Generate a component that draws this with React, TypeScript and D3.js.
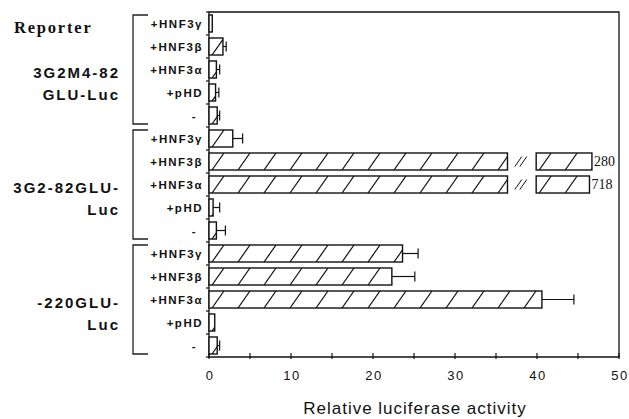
import React from 'react';
import * as d3 from 'd3';

// reporter constructs, two text lines each
const reporterLines = [
  ['3G2M4-82', 'GLU-Luc'],
  ['3G2-82GLU-', 'Luc'],
  ['-220GLU-', 'Luc'],
];
const treatments = ['+HNF3γ', '+HNF3β', '+HNF3α', '+pHD', '-'];
// relative luciferase activity per reporter x treatment
const activity = [
  [0.4, 1.7, 0.9, 0.8, 1.0],
  [2.9, 280, 718, 0.5, 0.9],
  [23.6, 22.3, 40.6, 0.7, 1.0],
];
const errors = [
  [0, 0.4, 0.4, 0.4, 0.3],
  [1.2, 0, 0, 0.8, 1.1],
  [1.9, 2.8, 3.9, 0, 0.3],
];
const xTickLabels = [0, 10, 20, 30, 40, 50];
const xMinorTicks = [0, 5, 10, 15, 20, 25, 30, 35, 40, 45, 50];
// off-scale bars are cut at breakAt, resume at resumeAt and end at their tail value
const breakAt = 36.4;
const resumeAt = 39.9;
const brokenTails: Record<number, number> = { 280: 46.7, 718: 46.4 };

const W = 629;
const H = 419;
const sans = '"Liberation Sans", Arial, sans-serif';
const serif = '"Liberation Serif", "Times New Roman", serif';

const App: React.FC = () => {
  const x = d3.scaleLinear().domain([0, 50]).range([209, 619]);
  const rows = reporterLines.flatMap((_, g) =>
    treatments.map((t, i) => ({ g, i, label: t, value: activity[g][i], err: errors[g][i] }))
  );
  const y = d3
    .scaleBand<number>()
    .domain(d3.range(rows.length))
    .range([12, 357])
    .paddingInner(0.26)
    .paddingOuter(0.13);
  const bw = y.bandwidth();
  const [plotTop, plotBottom] = y.range();

  // one hatched rectangle, clipped so the slashes stay inside
  const hatchBar = (key: string, x0: number, x1: number, top: number) => {
    const lines = [];
    for (let bx = x0 + 3; bx < x1 + 2; bx += 26) {
      lines.push(
        <line key={bx} x1={bx} y1={top + bw} x2={bx + 12} y2={top} stroke="#111" strokeWidth={1.2} />
      );
    }
    return (
      <g key={key}>
        <clipPath id={`clip-${key}`}>
          <rect x={x0} y={top} width={x1 - x0} height={bw} />
        </clipPath>
        <rect x={x0} y={top} width={x1 - x0} height={bw} fill="#fff" />
        <g clipPath={`url(#clip-${key})`}>{lines}</g>
        <rect x={x0} y={top} width={x1 - x0} height={bw} fill="none" stroke="#111" strokeWidth={1.4} />
      </g>
    );
  };

  return (
    <svg
      width={W}
      height={H}
      viewBox={`0 0 ${W} ${H}`}
      style={{ position: 'absolute', left: 0, top: 0, background: '#fff' }}
    >
      {/* Title on the left */}
      <text x={14} y={33} fontFamily={serif} fontWeight="bold" fontSize={16.5} letterSpacing={1.8} fill="#111">
        Reporter
      </text>

      {/* Reporter names and brackets */}
      {reporterLines.map((lines, g) => {
        const top = y(g * 5)!;
        const bottom = y(g * 5 + 4)! + bw;
        const mid = (top + bottom) / 2;
        return (
          <g key={g}>
            {lines.map((ln, k) => (
              <text
                key={k}
                x={120}
                y={mid + 8 + k * 22}
                textAnchor="end"
                fontFamily={sans}
                fontWeight="bold"
                fontSize={15}
                letterSpacing={2}
                fill="#111"
              >
                {ln}
              </text>
            ))}
            <path
              d={`M148,${top} H133 V${bottom} H148`}
              fill="none"
              stroke="#222"
              strokeWidth={1.3}
            />
          </g>
        );
      })}

      {/* Treatment labels */}
      {rows.map((r, k) => (
        <text
          key={k}
          x={r.label === '-' ? 197 : 203}
          y={y(k)! + bw / 2 + 4}
          textAnchor="end"
          fontFamily={sans}
          fontWeight="bold"
          fontSize={11.5}
          letterSpacing={1.5}
          fill="#111"
        >
          {r.label}
        </text>
      ))}

      {/* Frame */}
      <path
        d={`M${x(0)},${plotTop} H${x(50)} V${plotBottom} H${x(0)} Z`}
        fill="none"
        stroke="#111"
        strokeWidth={1.3}
      />

      {/* Left axis ticks at row boundaries */}
      {d3.range(rows.length + 1).map((k) => {
        const yy = plotTop + k * y.step();
        return <line key={k} x1={x(0) - 3} x2={x(0)} y1={yy} y2={yy} stroke="#111" strokeWidth={1.2} />;
      })}

      {/* Bottom axis */}
      {xMinorTicks.map((t) => (
        <line key={t} x1={x(t)} x2={x(t)} y1={plotBottom - 4} y2={plotBottom + 2} stroke="#111" strokeWidth={1.2} />
      ))}
      {xTickLabels.map((t) => (
        <text
          key={t}
          x={x(t) + 1}
          y={380}
          textAnchor="middle"
          fontFamily={sans}
          fontSize={13}
          letterSpacing={1.5}
          fill="#111"
        >
          {t}
        </text>
      ))}
      <text
        x={415}
        y={414}
        textAnchor="middle"
        fontFamily={sans}
        fontSize={17}
        letterSpacing={1}
        fill="#111"
      >
        Relative luciferase activity
      </text>

      {/* Bars */}
      {rows.map((r, k) => {
        const top = y(k)!;
        const cy = top + bw / 2;
        const tail = brokenTails[r.value];
        if (tail !== undefined) {
          const bx = (x(breakAt) + x(resumeAt)) / 2;
          return (
            <g key={k}>
              {hatchBar(`a${k}`, x(0), x(breakAt), top)}
              {[-3, 2].map((d) => (
                <line key={d} x1={bx + d - 4} y1={cy + 5} x2={bx + d + 3} y2={cy - 5} stroke="#111" strokeWidth={1} />
              ))}
              {hatchBar(`b${k}`, x(resumeAt), x(tail), top)}
              <text x={x(tail) + 2} y={cy + 4} fontFamily={serif} fontSize={14} fill="#111">
                {r.value}
              </text>
            </g>
          );
        }
        return (
          <g key={k}>
            {hatchBar(`r${k}`, x(0), x(r.value), top)}
            {r.err > 0 && (
              <g stroke="#111" strokeWidth={1.2}>
                <line x1={x(r.value)} x2={x(r.value + r.err)} y1={cy} y2={cy} />
                <line x1={x(r.value + r.err)} x2={x(r.value + r.err)} y1={cy - 5} y2={cy + 5} />
              </g>
            )}
          </g>
        );
      })}
    </svg>
  );
};

export default App;
